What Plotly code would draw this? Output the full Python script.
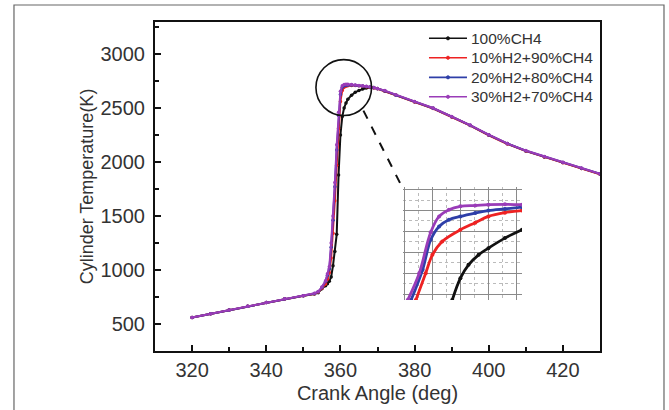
import plotly.graph_objects as go

# Crank angle samples (deg) shared by all four fuel blends
crank_angle = [320, 325, 330, 335, 340, 345, 350, 353, 354, 355, 356, 356.5, 357, 357.5,
               358, 358.5, 359, 359.5, 360, 360.5, 361, 361.5, 362, 363, 364, 365, 366,
               367, 368, 369, 370, 372, 375, 380, 385, 390, 395, 400, 405, 410, 415,
               420, 425, 430]

# Cylinder temperature (K) for each blend
temp_ch4 = [561, 595, 630, 665, 700, 733, 762, 778, 790, 825, 855, 872, 895, 935,
            1040, 1170, 1330, 1880, 2250, 2420, 2500, 2545, 2580, 2618, 2645, 2662, 2675,
            2684, 2689, 2688, 2680, 2655, 2618, 2557, 2496, 2418, 2338, 2249, 2170, 2102, 2046,
            1994, 1940, 1888]
temp_h2_10 = [561, 595, 630, 665, 700, 733, 762, 780, 795, 830, 870, 915, 975, 1110,
              1340, 1640, 1970, 2310, 2560, 2660, 2690, 2700, 2705, 2708, 2707, 2704, 2700,
              2696, 2691, 2685, 2677, 2655, 2616, 2555, 2494, 2416, 2336, 2247, 2166, 2100, 2045,
              1992, 1938, 1886]
temp_h2_20 = [561, 595, 630, 665, 700, 733, 762, 782, 798, 838, 895, 950, 1010, 1210,
              1460, 1770, 2110, 2430, 2625, 2692, 2706, 2710, 2712, 2712, 2710, 2706, 2702,
              2698, 2693, 2686, 2678, 2657, 2618, 2558, 2497, 2419, 2339, 2250, 2169, 2103, 2048,
              1995, 1942, 1889]
temp_h2_30 = [561, 595, 630, 665, 700, 733, 762, 785, 800, 842, 900, 965, 1030, 1250,
              1500, 1810, 2160, 2460, 2655, 2706, 2716, 2718, 2718, 2716, 2713, 2708, 2704,
              2700, 2695, 2688, 2680, 2660, 2620, 2560, 2499, 2421, 2341, 2252, 2171, 2105, 2050,
              1997, 1944, 1891]

# Magnified view of the ignition peak
inset_angle_ch4 = [360.71, 361.0, 361.29, 361.65, 362.0, 362.59, 363.2]
inset_temp_ch4 = [2486, 2538, 2570, 2594, 2610, 2634, 2654]
inset_angle_h2_10 = [359.41, 359.76, 360.0, 360.35, 361.0, 361.53, 362.0, 362.59, 363.2]
inset_temp_h2_10 = [2486, 2550, 2594, 2626, 2654, 2671, 2686, 2695, 2700]
inset_angle_h2_20 = [359.24, 359.65, 359.94, 360.24, 360.59, 361.0, 361.53, 362.0, 362.59, 363.2]
inset_temp_h2_20 = [2486, 2558, 2630, 2662, 2678, 2686, 2694, 2700, 2704, 2708]
inset_angle_h2_30 = [359.12, 359.53, 359.94, 360.24, 360.59, 361.0, 361.53, 362.0, 362.59, 363.2]
inset_temp_h2_30 = [2486, 2550, 2648, 2686, 2702, 2710, 2712, 2714, 2715, 2714]

labels = ["100%CH4", "10%H2+90%CH4", "20%H2+80%CH4", "30%H2+70%CH4"]
colors = ["#111111", "#ee2222", "#2f3fa8", "#9a3cb8"]
main_temps = [temp_ch4, temp_h2_10, temp_h2_20, temp_h2_30]
inset_sets = [(inset_angle_ch4, inset_temp_ch4), (inset_angle_h2_10, inset_temp_h2_10),
              (inset_angle_h2_20, inset_temp_h2_20), (inset_angle_h2_30, inset_temp_h2_30)]

FONT = "Arial, Liberation Sans, sans-serif"
TEXT = "#333333"

fig = go.Figure()

for name, color, temps in zip(labels, colors, main_temps):
    fig.add_trace(go.Scatter(
        x=crank_angle, y=temps, name=name, mode="lines+markers", showlegend=False,
        line=dict(color=color, width=2), marker=dict(color=color, size=3.5),
        xaxis="x", yaxis="y"))

for name, color, (ia, it) in zip(labels, colors, inset_sets):
    fig.add_trace(go.Scatter(
        x=ia, y=it, name=name, mode="lines+markers", showlegend=False,
        line=dict(color=color, width=2.8, shape="spline"), marker=dict(color=color, size=4),
        xaxis="x2", yaxis="y2"))

# Zoom circle around the peak and the dashed leader to the inset
circle_x = (353.4, 368.4)
circle_y = (2429, 2947)
leader = ((366.2, 2475), (376.3, 1790))

fig.add_shape(type="circle", xref="x", yref="y",
              x0=circle_x[0], x1=circle_x[1], y0=circle_y[0], y1=circle_y[1],
              line=dict(color="#111111", width=1.6))
fig.add_shape(type="line", xref="x", yref="y",
              x0=leader[0][0], y0=leader[0][1], x1=leader[1][0], y1=leader[1][1],
              line=dict(color="#111111", width=2, dash="dash"))

# Outer figure frame
fig.add_shape(type="rect", xref="paper", yref="paper",
              x0=-0.3169, x1=1.1438, y0=-0.25, y1=1.0517,
              line=dict(color="#666666", width=1.2), layer="below")

# Key: short line with a centre dot, then the blend name
key_rows = [0.9504, 0.8914, 0.8318, 0.7727]
key_line = (0.6157, 0.7011)
key_text_x = 0.7056
dot_rx, dot_ry = 0.0035, 0.0047
for name, color, ky in zip(labels, colors, key_rows):
    fig.add_shape(type="line", xref="paper", yref="paper",
                  x0=key_line[0], x1=key_line[1], y0=ky, y1=ky,
                  line=dict(color=color, width=1.6))
    cx = (key_line[0] + key_line[1]) / 2
    fig.add_shape(type="circle", xref="paper", yref="paper",
                  x0=cx - dot_rx, x1=cx + dot_rx, y0=ky - dot_ry, y1=ky + dot_ry,
                  line=dict(color=color, width=1), fillcolor=color)
    fig.add_annotation(x=key_text_x, y=ky, xref="paper", yref="paper", text=name,
                       showarrow=False, xanchor="left", yanchor="middle",
                       font=dict(size=15.5, color=TEXT, family=FONT))

fig.update_layout(
    width=669, height=410,
    margin=dict(l=155, r=69, t=22, b=59),
    paper_bgcolor="white", plot_bgcolor="white",
    font=dict(family=FONT, color=TEXT),
    showlegend=False,
    xaxis=dict(range=[310, 430], dtick=20, tick0=320, ticks="inside", ticklen=6,
               tickwidth=2, tickcolor="#111111", automargin=False,
               showline=True, linewidth=2, linecolor="#111111", mirror=True,
               showgrid=False, zeroline=False,
               tickfont=dict(size=20, color=TEXT),
               minor=dict(dtick=10, tick0=320, ticks="inside", ticklen=4, tickwidth=2, tickcolor="#111111"),
               title=dict(text="Crank Angle (deg)", font=dict(size=20, color=TEXT), standoff=6)),
    yaxis=dict(range=[250, 3295], dtick=500, tick0=500, ticks="inside", ticklen=6,
               tickwidth=2, tickcolor="#111111", ticklabelstandoff=4, automargin=False,
               showline=True, linewidth=2, linecolor="#111111", mirror=True,
               showgrid=False, zeroline=False,
               tickfont=dict(size=20, color=TEXT),
               minor=dict(dtick=250, tick0=500, ticks="inside", ticklen=4, tickwidth=2, tickcolor="#111111"),
               title=dict(text="Cylinder Temperature(K)", font=dict(size=18, color=TEXT), standoff=2)),
    xaxis2=dict(domain=[0.5573, 0.8247], anchor="y2", range=[358.95, 363.2],
                showticklabels=False, ticks="", showline=False, zeroline=False,
                showgrid=True, gridcolor="#8a8a8a", gridwidth=1.4, dtick=1, tick0=359,
                minor=dict(showgrid=True, dtick=0.5, gridcolor="#bbbbbb", griddash="dot", gridwidth=1)),
    yaxis2=dict(domain=[0.1552, 0.498], anchor="x2", range=[2486, 2756],
                showticklabels=False, ticks="", showline=False, zeroline=False,
                showgrid=True, gridcolor="#8a8a8a", gridwidth=1.4, dtick=50, tick0=2500,
                minor=dict(showgrid=True, dtick=25, gridcolor="#bbbbbb", griddash="dot", gridwidth=1)),
)

fig.write_html("out.html")
